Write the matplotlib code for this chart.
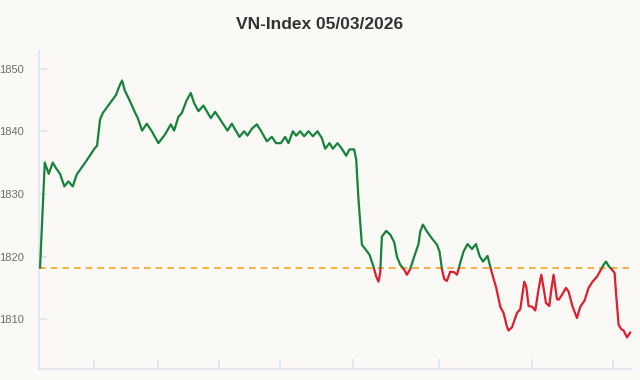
import matplotlib
matplotlib.use("Agg")
import matplotlib.pyplot as plt
from matplotlib.patches import Rectangle

plt.rcParams['font.family'] = ['Liberation Sans', 'DejaVu Sans']

title = "VN-Index 05/03/2026"
ref_close = 1818.2

# trading session position (arbitrary index units) and index level
t = [1, 5.7, 9.7, 13.7, 17, 21, 25.3, 29.3, 33.7, 37.7, 47, 55.3, 58, 61, 63.7,
     68.7, 77, 80.3, 83, 85.7, 90.3, 95.3, 98.7, 103, 107.7, 112.7, 119.3, 126,
     131.7, 135, 139.3, 142.7, 147.7, 151.7, 155, 159.3, 164.3, 171.7, 176,
     181, 188.3, 192.7, 200.3, 205, 208.3, 212.7, 217.7, 221.7, 227.7, 232.7,
     237, 241.7, 246, 249.3, 253.7, 257, 261, 265, 269.3, 273.7, 278.3, 282.7,
     286, 290.3, 293.7, 298.3, 302.7, 307, 310.3, 315, 317, 319.3, 322.7, 326,
     330.3, 334.3, 337, 339.3, 341, 342.7, 347, 351, 355, 357.7, 361, 365,
     367.7, 371, 375, 379.3, 381, 383.7, 387.7, 392.7, 397.7, 400.3, 402.7,
     405, 407.7, 411, 415, 417.7, 421, 424.3, 428.3, 432.7, 436.7, 440.3,
     443.7, 448.3, 451, 453.7, 457, 461, 464.3, 467.7, 469.3, 472.7, 477.7,
     481, 485, 487, 489.3, 492.7, 496, 499.3, 502, 504.3, 506.7, 510, 512,
     514.3, 516, 517.7, 519.3, 522.7, 526.7, 529.3, 533.3, 537.7, 541, 545.3,
     549.3, 553.3, 557.7, 562, 564.3, 566.7, 569.3, 572.7, 575.3, 577, 579.3,
     582, 584.3, 587.7, 591]
vnindex = [1818.2, 1835.0, 1833.2, 1835.0, 1834.1, 1833.2, 1831.2, 1832.0,
           1831.2, 1833.1, 1835.2, 1837.2, 1837.7, 1841.9, 1842.9, 1844.0,
           1845.8, 1847.2, 1848.1, 1846.5, 1845.0, 1843.2, 1842.1, 1840.1,
           1841.2, 1840.0, 1838.1, 1839.5, 1841.1, 1840.1, 1842.3, 1842.9,
           1845.0, 1846.1, 1844.5, 1843.2, 1844.1, 1842.1, 1843.1, 1841.9,
           1840.1, 1841.2, 1839.1, 1840.0, 1839.3, 1840.4, 1841.1, 1840.1,
           1838.4, 1839.1, 1838.1, 1838.1, 1839.1, 1838.1, 1840.0, 1839.3,
           1840.0, 1839.2, 1840.0, 1839.2, 1840.0, 1838.9, 1837.2, 1838.1,
           1837.2, 1838.1, 1837.2, 1836.1, 1837.1, 1837.1, 1835.5, 1829.1,
           1821.9, 1821.2, 1820.3, 1818.4, 1816.8, 1816.0, 1817.4, 1823.2,
           1824.1, 1823.5, 1822.3, 1820.0, 1818.7, 1817.9, 1817.1, 1818.0,
           1820.0, 1822.0, 1824.0, 1825.1, 1824.0, 1822.9, 1821.9, 1820.8,
           1818.0, 1816.4, 1816.1, 1817.6, 1817.5, 1817.1, 1819.0, 1820.8,
           1822.0, 1821.2, 1822.0, 1820.1, 1819.2, 1820.1, 1818.4, 1816.8,
           1815.0, 1812.0, 1811.0, 1808.8, 1808.2, 1808.7, 1811.0, 1811.6,
           1816.0, 1815.2, 1812.1, 1812.0, 1811.4, 1814.8, 1817.1, 1815.0,
           1812.6, 1812.1, 1814.7, 1817.1, 1815.2, 1813.2, 1813.1, 1813.9,
           1815.0, 1814.4, 1812.0, 1810.2, 1812.0, 1813.0, 1815.0, 1816.0,
           1816.8, 1818.0, 1818.7, 1819.2, 1818.5, 1817.9, 1817.4, 1813.6,
           1809.1, 1808.4, 1808.2, 1807.1, 1807.9]
x_ticks = [54.5, 119, 180, 241, 314, 400, 493, 574]
y_ticks = [1810, 1820, 1830, 1840, 1850]

bg = '#faf9f6'
axis_col = '#dde3ee'

fig = plt.figure(figsize=(6.4, 3.8), dpi=100, facecolor=bg)
ax = fig.add_axes([0.061, 0.029, 0.927, 0.84])
ax.set_facecolor(bg)

ax.set_xlim(0, 593)
ax.set_ylim(1802.06, 1853.0)

# split colour at the reference level
up, = ax.plot(t, vnindex, color='#16833a', lw=1.6, solid_joinstyle='round',
              solid_capstyle='round', zorder=3)
down, = ax.plot(t, vnindex, color='#dc1f2e', lw=1.6, solid_joinstyle='round',
                solid_capstyle='round', zorder=3)
up.set_clip_path(Rectangle((-10, ref_close), 700, 100, transform=ax.transData))
down.set_clip_path(Rectangle((-10, ref_close - 100), 700, 100, transform=ax.transData))

ax.axhline(ref_close, color='#f5a623', lw=1.2, ls=(0, (4, 3)), zorder=2)

for s in ['top', 'right']:
    ax.spines[s].set_visible(False)
for s in ['left', 'bottom']:
    ax.spines[s].set_color(axis_col)
    ax.spines[s].set_linewidth(1.2)

ax.set_yticks(y_ticks)
ax.set_xticks(x_ticks)
ax.set_xticklabels([])
ax.tick_params(axis='y', direction='in', length=6, width=1.2, color=axis_col,
               labelsize=8, labelcolor='#6e6e6e', pad=11)
ax.tick_params(axis='x', direction='in', length=7, width=1.2, color=axis_col)

fig.text(0.5, 0.935, title, ha='center', va='center', fontsize=12.5,
         fontweight='bold', color='#333333')

fig.savefig('out.png', dpi=100, facecolor=bg)
